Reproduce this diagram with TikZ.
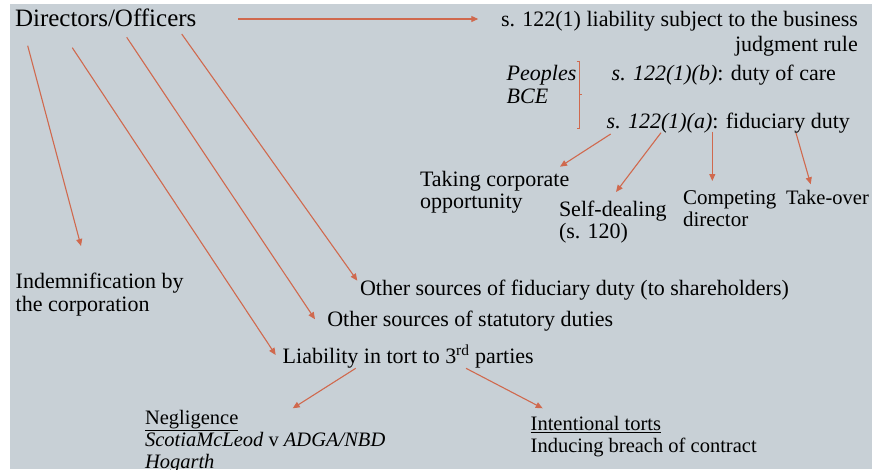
\documentclass[tikz,border=0pt]{standalone}
\usepackage{fontspec}
\setmainfont{Liberation Serif}
\usepackage{xcolor}
\usepackage{tikz}
\usetikzlibrary{positioning, arrows.meta}

\definecolor{slidebg}{HTML}{C8D0D6}
\definecolor{arrred}{HTML}{D0694E}

\begin{document}
\begin{tikzpicture}[
    x=1pt, y=-1pt,
    >=Stealth,
    txt/.style={
        anchor=base west, inner sep=0pt, outer sep=0pt, align=left,
        font=\fontsize{22}{23}\selectfont
    },
    title/.style={txt, font=\fontsize{25}{27}\selectfont},
    small/.style={txt, font=\fontsize{20.5}{22}\selectfont},
    arr/.style={-{Triangle[length=7pt,width=6pt]}, draw=arrred, line width=1.1pt},
    brk/.style={draw=arrred, line width=0.8pt},
]

% Background
\useasboundingbox (0,0) rectangle (872,469);
\fill[slidebg] (10,4) rectangle (872,469);

% Root
\node[title] (dir) at (15,26.7) {Directors/Officers};

% s. 122(1)  (multi-line nodes sit on their last baseline)
\node[txt, align=right, font=\fontsize{22}{25}\selectfont] (bjr) at (501,51.7)
    {s. 122(1) liability subject to the business\\judgment rule};
\node[txt, font=\fontsize{22}{23.3}\selectfont\itshape] (peop) at (506.7,103.3) {Peoples\\BCE};
\node[txt] (care) at (611.7,80) {\textit{s. 122(1)(b)}: duty of care};
\node[txt] (fidA) at (606.7,128.3) {\textit{s. 122(1)(a)}: fiduciary duty};

% Fiduciary duty branches
\node[txt, font=\fontsize{22}{21.5}\selectfont] (take) at (420,208) {Taking corporate\\opportunity};
\node[txt, font=\fontsize{22}{21.5}\selectfont] (self) at (559,238) {Self-dealing\\(s. 120)};
\node[txt, font=\fontsize{21}{22}\selectfont] (comp) at (683,226) {Competing\\director};
\node[txt, font=\fontsize{20.5}{22}\selectfont] (tko) at (786,204) {Take-over};

% Other branches
\node[txt, font=\fontsize{22}{23.4}\selectfont] (indem) at (15.7,311.7) {Indemnification by\\the corporation};
\node[txt] (fid) at (360,295) {Other sources of fiduciary duty (to shareholders)};
\node[txt] (stat) at (327.3,326.7) {Other sources of statutory duties};
\node[txt] (liab) at (282.7,363.3) {Liability in tort to 3\textsuperscript{rd} parties};

% Tort branches
\node[small] (negl) at (145,468.3) {\underline{Negligence}\\\textit{ScotiaMcLeod} v \textit{ADGA/NBD}\\\textit{Hogarth}};
\node[small] (intl) at (530.7,452.7) {\underline{Intentional torts}\\Inducing breach of contract};

% Bracket
\draw[brk] (576.5,61) -- (579.3,61) -- (579.3,128.3) -- (576.5,128.3);
\draw[brk] (579.3,94.3) -- (582,94.3);

% Arrows from Directors/Officers
\draw[arr] ([xshift=223pt,yshift=7.7pt]dir.base west) -- ([xshift=-22.7pt,yshift=32.7pt]bjr.base west);
\draw[arr] ([xshift=12.7pt,yshift=-19pt]dir.base west) -- ([xshift=65.3pt,yshift=65.7pt]indem.base west);
\draw[arr] ([xshift=57.3pt,yshift=-21pt]dir.base west) -- ([xshift=-7pt,yshift=8.3pt]liab.base west);
\draw[arr] ([xshift=111.7pt,yshift=-10.6pt]dir.base west) -- ([xshift=-12.3pt,yshift=7.4pt]stat.base west);
\draw[arr] ([xshift=166.7pt,yshift=-7.3pt]dir.base west) -- ([xshift=-2.7pt,yshift=14.3pt]fid.base west);

% Arrows from fiduciary duty
\draw[arr] ([xshift=4pt,yshift=-5.7pt]fidA.base west) -- ([xshift=140pt,yshift=41.3pt]take.base west);
\draw[arr] ([xshift=54.3pt,yshift=-4.4pt]fidA.base west) -- ([xshift=57pt,yshift=46pt]self.base west);
\draw[arr] ([xshift=105.6pt,yshift=-3.4pt]fidA.base west) -- ([xshift=29.3pt,yshift=45pt]comp.base west);
\draw[arr] ([xshift=189.3pt,yshift=-4.7pt]fidA.base west) -- ([xshift=24.7pt,yshift=19.7pt]tko.base west);

% Arrows from tort liability
\draw[arr] ([xshift=73pt,yshift=-5pt]liab.base west) -- ([xshift=147.7pt,yshift=60pt]negl.base west);
\draw[arr] ([xshift=183.3pt,yshift=-5pt]liab.base west) -- ([xshift=12pt,yshift=44.4pt]intl.base west);

\end{tikzpicture}
\end{document}
